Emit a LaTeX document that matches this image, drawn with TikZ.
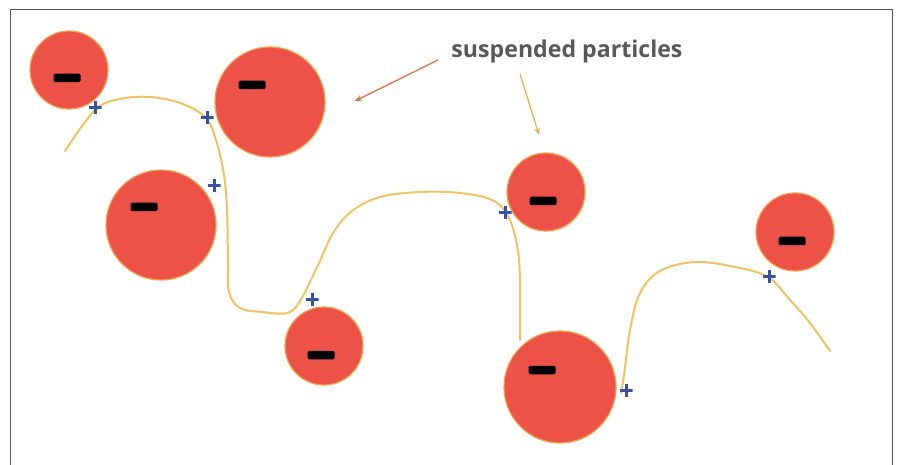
\documentclass[tikz,border=0pt]{standalone}
\usepackage{fontspec}
\setmainfont{Open Sans}
\usetikzlibrary{arrows.meta}
\definecolor{partred}{RGB}{237,82,72}
\definecolor{partedge}{RGB}{244,160,70}
\definecolor{rope}{RGB}{243,192,98}
\definecolor{plusblue}{RGB}{58,80,165}
\definecolor{arrowred}{RGB}{224,112,80}
\definecolor{arrowyel}{RGB}{232,176,80}
\definecolor{labelgray}{RGB}{88,88,88}
\definecolor{framegray}{RGB}{85,85,85}
\tikzset{
  particle/.style={circle, fill=partred, draw=partedge, line width=1.2pt, inner sep=0pt},
  minusbar/.style={rectangle, fill=black, minimum width=27pt, minimum height=8.5pt, inner sep=0pt, rounded corners=1.5pt},
  plussign/.style={minimum size=13pt, inner sep=0pt,
    path picture={\draw[plusblue, line width=3pt]
      (path picture bounding box.west) -- (path picture bounding box.east)
      (path picture bounding box.north) -- (path picture bounding box.south);}},
  ropeline/.style={draw=rope, line width=2pt, line cap=round},
  pointer/.style={line width=1.3pt, -{Stealth[length=7pt,width=6pt]}}
}
\begin{document}
\begin{tikzpicture}[x=1pt,y=-1pt]
\useasboundingbox (0,0) rectangle (897,465);
% frame
\draw[framegray, line width=1.6pt] (10.5,466) -- (10.5,9.5) -- (892.5,9.5) -- (892.5,466);

% ropes
\draw[ropeline] plot[smooth, tension=0.6] coordinates {
  (65,151) (95,110) (120,99) (150,97) (180,103) (205,117) (216,140) (224,175) (227,210)
  (228,260) (229,292) (240,308) (262,312) (287,313) (300,301) (318,265) (333,233)
  (352,211) (380,197) (420,192) (460,193) (492,200) (508,216) (517,245) (520,280) (520,340)};
\draw[ropeline] plot[smooth, tension=0.6] coordinates {
  (621,393) (624,375) (630,330) (640,293) (660,271) (695,262) (735,267) (768,277)
  (790,300) (810,323) (830,351)};

% particles
\node[particle, minimum size=78pt] (p1) at (69,70) {};
\node[particle, minimum size=110pt] (p2) at (270,102) {};
\node[particle, minimum size=110pt] (p3) at (161,225) {};
\node[particle, minimum size=78pt] (p4) at (324,346) {};
\node[particle, minimum size=78pt] (p5) at (546,192) {};
\node[particle, minimum size=112pt] (p6) at (560,387) {};
\node[particle, minimum size=78pt] (p7) at (795,232) {};

% minus signs
\node[minusbar] (m1) at (67,78) {};
\node[minusbar] (m2) at (252,85) {};
\node[minusbar] (m3) at (144,207) {};
\node[minusbar] (m4) at (321,355) {};
\node[minusbar] (m5) at (543,201) {};
\node[minusbar] (m6) at (542,370) {};
\node[minusbar] (m7) at (792,241) {};

% plus signs
\node[plussign] (q1) at (95,108) {};
\node[plussign] (q2) at (207,118) {};
\node[plussign] (q3) at (214,186) {};
\node[plussign] (q4) at (312,299) {};
\node[plussign] (q5) at (505,213) {};
\node[plussign] (q6) at (626,390) {};
\node[plussign] (q7) at (769,276) {};

% label and pointers
\node[text=labelgray, inner sep=0pt, anchor=base] (lbl) at (567,58)
  {\resizebox{231pt}{!}{\fontsize{18pt}{20pt}\selectfont\bfseries suspended particles}};
\coordinate (a1s) at (438,60);
\coordinate (a1e) at (355,101);
\coordinate (a2s) at (520,74);
\coordinate (a2e) at (539,135);
\draw[pointer, arrowred] (a1s) -- (a1e);
\draw[pointer, arrowyel] (a2s) -- (a2e);
\end{tikzpicture}
\end{document}
